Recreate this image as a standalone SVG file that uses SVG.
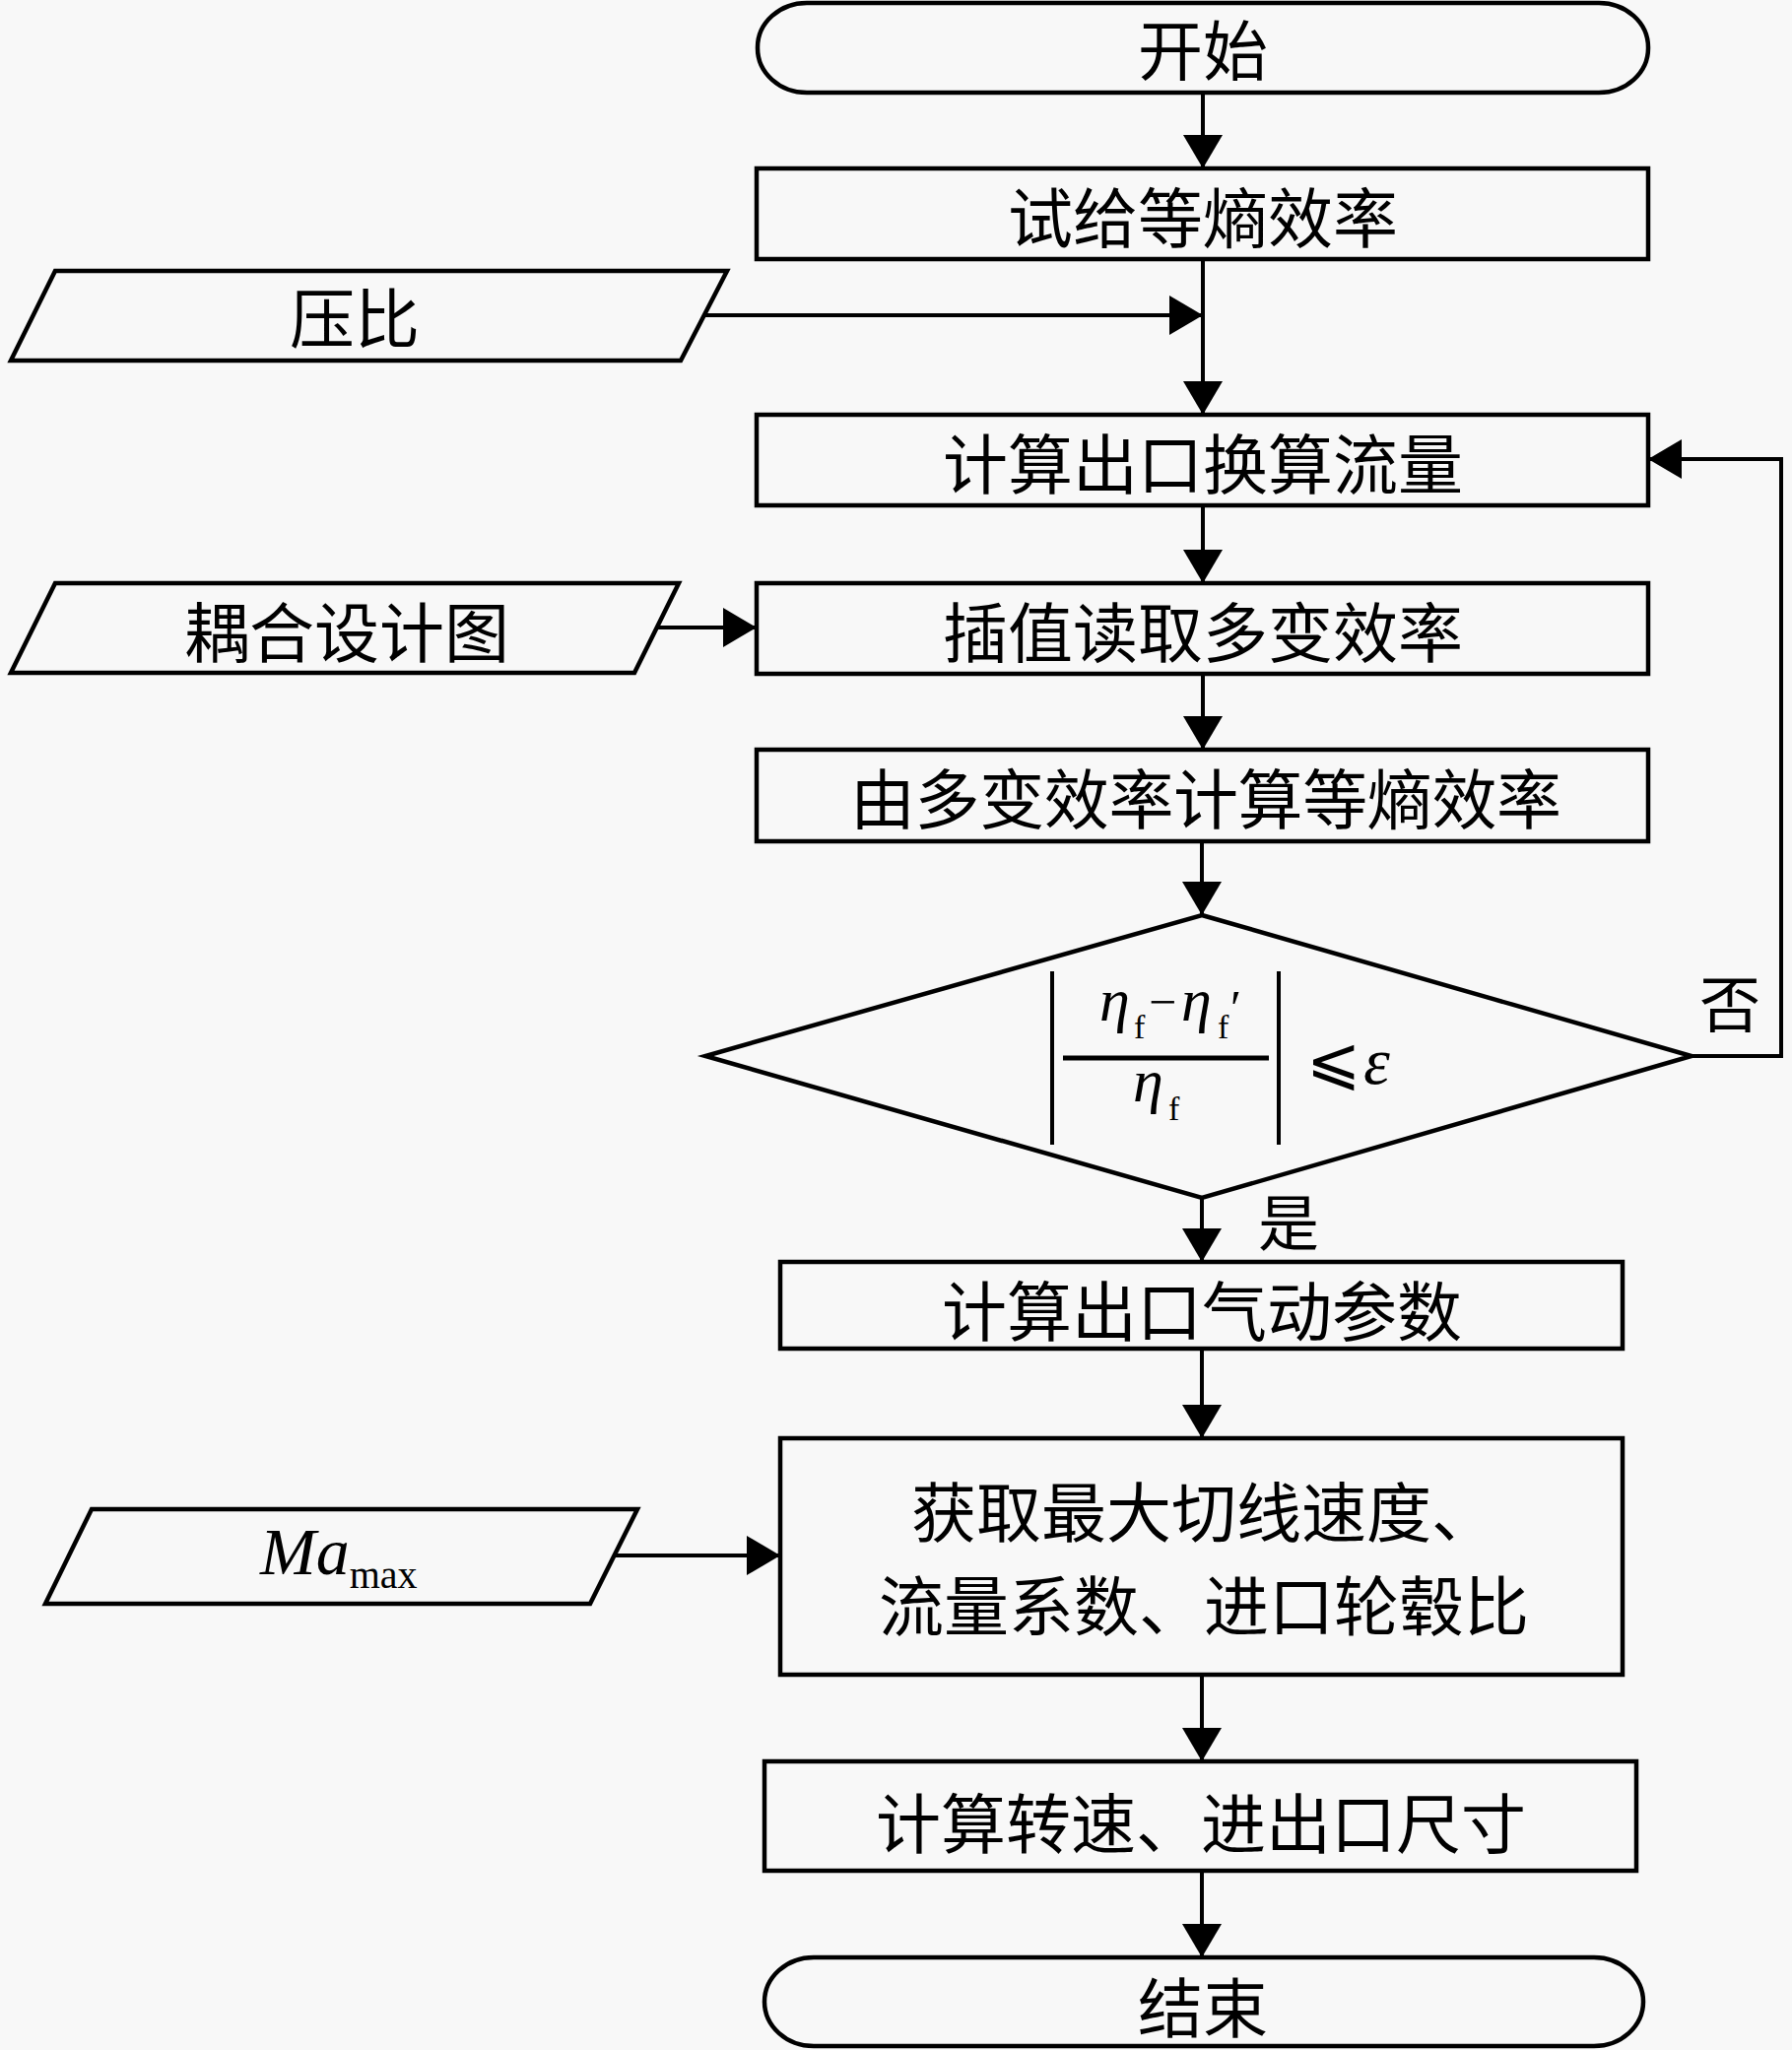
<svg xmlns="http://www.w3.org/2000/svg" width="1819" height="2081" viewBox="0 0 1819 2081">
<style>
.shape{fill:#f8f8f8;stroke:#000;stroke-width:4.5}
.conn{fill:none;stroke:#000;stroke-width:4}
.cn{font-family:"Noto Sans CJK SC","Liberation Serif",sans-serif;font-size:66px;fill:#000;text-anchor:middle;dominant-baseline:central}
.lbl{font-family:"Noto Sans CJK SC","Liberation Serif",sans-serif;font-size:62px;fill:#000;text-anchor:middle;dominant-baseline:central}
.m{font-family:"Liberation Serif","DejaVu Serif",serif;fill:#000}
.it{font-style:italic}
</style>
<defs>
<marker id="ah" markerUnits="userSpaceOnUse" markerWidth="36" markerHeight="42" refX="34" refY="20" orient="auto">
<path d="M0,0 L34,20 L0,40 Z" fill="#000"/>
</marker>
</defs>
<rect x="0" y="0" width="1819" height="2081" fill="#f8f8f8"/>

<g id="connectors">
<line class="conn" x1="1221" y1="94" x2="1221" y2="171" marker-end="url(#ah)"/>
<line class="conn" x1="1221" y1="263" x2="1221" y2="421" marker-end="url(#ah)"/>
<line class="conn" x1="715" y1="320" x2="1221" y2="320" marker-end="url(#ah)"/>
<line class="conn" x1="1221" y1="513" x2="1221" y2="592" marker-end="url(#ah)"/>
<line class="conn" x1="667" y1="637" x2="768" y2="637" marker-end="url(#ah)"/>
<line class="conn" x1="1221" y1="684" x2="1221" y2="761" marker-end="url(#ah)"/>
<line class="conn" x1="1220" y1="854" x2="1220" y2="929" marker-end="url(#ah)"/>
<line class="conn" x1="1220" y1="1216" x2="1220" y2="1281" marker-end="url(#ah)"/>
<line class="conn" x1="1220" y1="1369" x2="1220" y2="1460" marker-end="url(#ah)"/>
<line class="conn" x1="624" y1="1579" x2="792" y2="1579" marker-end="url(#ah)"/>
<line class="conn" x1="1220" y1="1700" x2="1220" y2="1788" marker-end="url(#ah)"/>
<line class="conn" x1="1220" y1="1899" x2="1220" y2="1987" marker-end="url(#ah)"/>
<polyline class="conn" points="1717,1072 1808,1072 1808,466 1673,466" marker-end="url(#ah)"/>
<text class="lbl" x="1756" y="1016">否</text>
<text class="lbl" x="1308" y="1238">是</text>
</g>

<g id="start">
<rect class="shape" x="769" y="3" width="904" height="91" rx="50" ry="45"/>
<text class="cn" x="1221" y="47">开始</text>
</g>
<g id="trial-eff">
<rect class="shape" x="768" y="171" width="905" height="92"/>
<text class="cn" x="1221" y="217">试给等熵效率</text>
</g>
<g id="pressure-ratio">
<polygon class="shape" points="56,275 738,275 691,366 11,366"/>
<text class="cn" x="360" y="319">压比</text>
</g>
<g id="calc-flow">
<rect class="shape" x="768" y="421" width="905" height="92"/>
<text class="cn" x="1221" y="467">计算出口换算流量</text>
</g>
<g id="coupled-map">
<polygon class="shape" points="56,592 689,592 644,683 11,683"/>
<text class="cn" x="352" y="638">耦合设计图</text>
</g>
<g id="interp">
<rect class="shape" x="768" y="592" width="905" height="92"/>
<text class="cn" x="1221" y="638">插值读取多变效率</text>
</g>
<g id="poly-to-isen">
<rect class="shape" x="768" y="761" width="905" height="93"/>
<text class="cn" x="1224" y="807" textLength="722" lengthAdjust="spacing">由多变效率计算等熵效率</text>
</g>
<g id="decision">
<polygon class="shape" points="1220,929 1717,1072 1220,1216 716,1072"/>
<line class="conn" x1="1068" y1="986" x2="1068" y2="1162"/>
<line class="conn" x1="1298" y1="986" x2="1298" y2="1162"/>
<line x1="1079" y1="1074" x2="1288" y2="1074" stroke="#000" stroke-width="5"/>
<text class="m it" x="1116" y="1036" font-size="62">η</text>
<text class="m" x="1151" y="1054" font-size="34">f</text>
<text class="m" x="1166" y="1034" font-size="50">−</text>
<text class="m it" x="1199" y="1036" font-size="62">η</text>
<text class="m" x="1236" y="1054" font-size="34">f</text>
<text class="m" x="1249" y="1040" font-size="50">′</text>
<text class="m it" x="1150" y="1118" font-size="62">η</text>
<text class="m" x="1186" y="1137" font-size="34">f</text>
<text class="m" x="1326" y="1099" font-size="66">⩽</text>
<text class="m it" x="1384" y="1100" font-size="68">ε</text>
</g>
<g id="calc-aero">
<rect class="shape" x="792" y="1281" width="855" height="88"/>
<text class="cn" x="1220" y="1327">计算出口气动参数</text>
</g>
<g id="ma-max">
<polygon class="shape" points="93,1532 647,1532 599,1628 46,1628"/>
<text class="m" x="264" y="1598" font-size="68"><tspan class="it">Ma</tspan><tspan font-size="40" dy="14">max</tspan></text>
</g>
<g id="get-params">
<rect class="shape" x="792" y="1460" width="855" height="240"/>
<text class="cn" x="1222" y="1531">获取最大切线速度、</text>
<text class="cn" x="1222" y="1626">流量系数、进口轮毂比</text>
</g>
<g id="calc-speed">
<rect class="shape" x="776" y="1788" width="885" height="111"/>
<text class="cn" x="1219" y="1847">计算转速、进出口尺寸</text>
</g>
<g id="end">
<rect class="shape" x="776" y="1987" width="892" height="90" rx="50" ry="45"/>
<text class="cn" x="1221" y="2034">结束</text>
</g>
</svg>
